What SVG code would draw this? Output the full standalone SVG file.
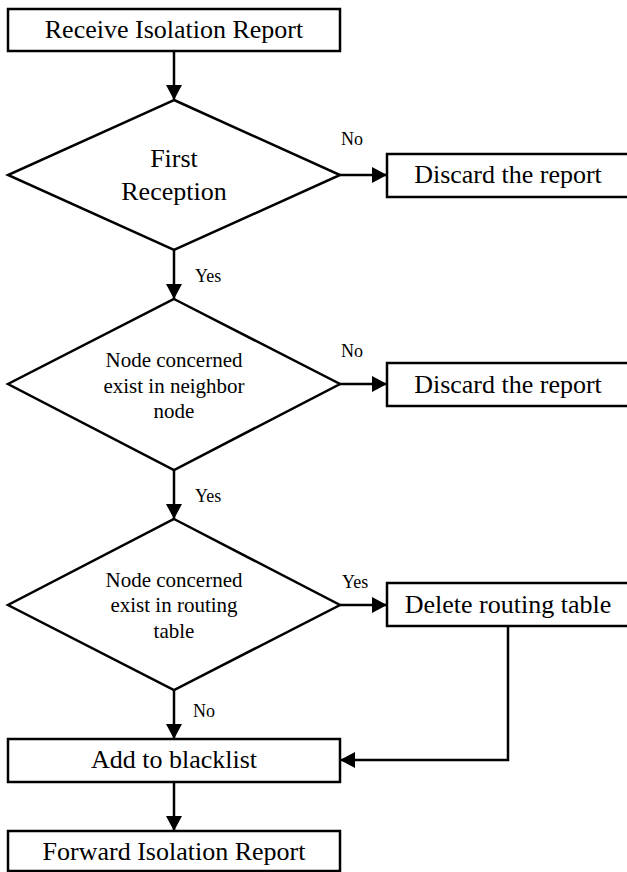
<svg xmlns="http://www.w3.org/2000/svg" width="627" height="872" viewBox="0 0 627 872">
<style>
.box{fill:#fff;stroke:#000;stroke-width:2.5}
.dia{fill:#fff;stroke:#000;stroke-width:2.5;stroke-linejoin:miter}
.t{font-family:"Liberation Serif","Times New Roman",serif;fill:#000;text-anchor:middle}
.big{font-size:26px}
.mid{font-size:21px}
.lbl{font-family:"Liberation Serif","Times New Roman",serif;font-size:18px;fill:#000}
.c{fill:none;stroke:#000;stroke-width:2.5}
</style>
<defs>
<marker id="ah" markerUnits="userSpaceOnUse" markerWidth="16" markerHeight="16" refX="15" refY="8" orient="auto">
<path d="M0,0 L15,8 L0,16 Z" fill="#000"/>
</marker>
</defs>
<rect width="627" height="872" fill="#fff"/>
<g id="connectors">
<line class="c" x1="174" y1="51" x2="174" y2="100" marker-end="url(#ah)"/>
<line class="c" x1="340" y1="175" x2="387" y2="175" marker-end="url(#ah)"/>
<line class="c" x1="174" y1="250" x2="174" y2="299" marker-end="url(#ah)"/>
<line class="c" x1="340" y1="384" x2="387" y2="384" marker-end="url(#ah)"/>
<line class="c" x1="174" y1="470" x2="174" y2="519" marker-end="url(#ah)"/>
<line class="c" x1="340" y1="605" x2="387" y2="605" marker-end="url(#ah)"/>
<line class="c" x1="174" y1="690" x2="174" y2="739" marker-end="url(#ah)"/>
<polyline class="c" points="508,626 508,760 340,760" marker-end="url(#ah)"/>
<line class="c" x1="174" y1="782" x2="174" y2="831" marker-end="url(#ah)"/>
<text class="lbl" x="341" y="145">No</text>
<text class="lbl" x="195" y="282">Yes</text>
<text class="lbl" x="341" y="357">No</text>
<text class="lbl" x="195" y="502">Yes</text>
<text class="lbl" x="342" y="588">Yes</text>
<text class="lbl" x="193" y="717">No</text>
</g>
<g id="receive">
<rect class="box" x="8" y="9" width="332" height="42"/>
<text class="t big" x="174" y="38">Receive Isolation Report</text>
</g>
<g id="first-reception">
<polygon class="dia" points="174,100 340,175 174,250 8,175"/>
<text class="t big" x="174" y="167">First</text>
<text class="t big" x="174" y="200">Reception</text>
</g>
<g id="discard1">
<rect class="box" x="387" y="154" width="245" height="43"/>
<text class="t big" x="508" y="183">Discard the report</text>
</g>
<g id="neighbor">
<polygon class="dia" points="174,299 340,384 174,470 8,384"/>
<text class="t mid" x="174" y="367">Node concerned</text>
<text class="t mid" x="174" y="393">exist in neighbor</text>
<text class="t mid" x="174" y="418">node</text>
</g>
<g id="discard2">
<rect class="box" x="387" y="363" width="245" height="43"/>
<text class="t big" x="508" y="393">Discard the report</text>
</g>
<g id="routing">
<polygon class="dia" points="174,519 340,605 174,690 8,605"/>
<text class="t mid" x="174" y="587">Node concerned</text>
<text class="t mid" x="174" y="612">exist in routing</text>
<text class="t mid" x="174" y="638">table</text>
</g>
<g id="delete">
<rect class="box" x="387" y="583" width="245" height="43"/>
<text class="t big" x="508" y="613">Delete routing table</text>
</g>
<g id="blacklist">
<rect class="box" x="8" y="739" width="332" height="43"/>
<text class="t big" x="174" y="768">Add to blacklist</text>
</g>
<g id="forward">
<rect class="box" x="8" y="831" width="332" height="40"/>
<text class="t big" x="174" y="860">Forward Isolation Report</text>
</g>
</svg>
